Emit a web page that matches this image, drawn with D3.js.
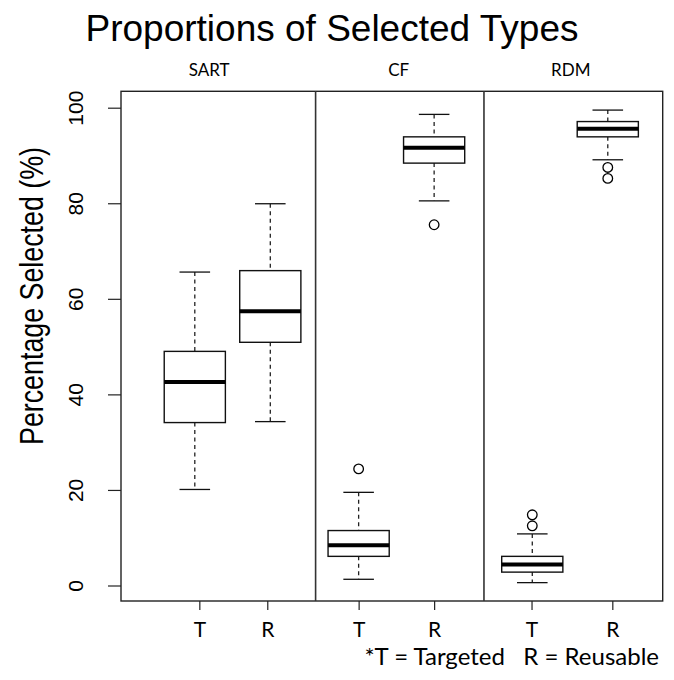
<!DOCTYPE html>
<html>
<head>
<meta charset="utf-8">
<script src="https://cdn.jsdelivr.net/npm/d3@7"></script>
<style>
  html, body { margin: 0; padding: 0; background: #fff; }
  svg { display: block; }
</style>
</head>
<body>
<div id="chart"></div>
<script>
// box stats, in order SART T, SART R, CF T, CF R, RDM T, RDM R
const groups = ["SART", "CF", "RDM"];
const typeLabels = ["T", "R", "T", "R", "T", "R"];
const boxPos = [1, 2, 3.17, 4.17, 5.47, 6.47];
const tickPos = [1.06, 1.96, 3.17, 4.17, 5.46, 6.53];
const whiskerLow = [20.1, 34.3, 1.3, 80.5, 0.6, 89.1];
const q1 = [34.1, 50.9, 6.1, 88.4, 2.8, 93.9];
const median = [42.6, 57.4, 8.45, 91.6, 4.4, 95.6];
const q3 = [49.0, 65.9, 11.5, 93.9, 6.1, 97.1];
const whiskerHigh = [65.6, 79.9, 19.5, 98.6, 10.8, 99.5];
const outliers = [[], [], [24.4], [75.5], [12.5, 14.8], [85.2, 87.5]];
const dividers = [2.6, 4.83];
const groupLabelPos = [1.19, 3.7, 5.98];
const yTicks = [0, 20, 40, 60, 80, 100];

const width = 674;
const height = 680;
const frame = {left: 121, right: 662.7, top: 91.3, bottom: 601};

const svg = d3.select("#chart").append("svg")
  .attr("width", width)
  .attr("height", height);

const x = d3.scaleLinear().domain([0, 7.2]).range([119.3, 662.9]);
const y = d3.scaleLinear().domain([0, 100]).range([585.5, 107.7]);

const boxW = x(0.81) - x(0);
const capW = boxW / 2;

const boxes = boxPos.map((p, i) => ({
  pos: p, lo: whiskerLow[i], q1: q1[i], med: median[i], q3: q3[i], hi: whiskerHigh[i], out: outliers[i]
}));

// title
svg.append("text")
  .attr("x", 332)
  .attr("y", 41)
  .attr("text-anchor", "middle")
  .style("font-family", "'Liberation Sans', Arial, sans-serif")
  .style("font-size", "37px")
  .text("Proportions of Selected Types");

// panel names
svg.append("g").selectAll("text")
  .data(groups)
  .enter().append("text")
  .attr("x", (d, i) => x(groupLabelPos[i]))
  .attr("y", 76)
  .attr("text-anchor", "middle")
  .style("font-family", "Lato, 'Open Sans', sans-serif")
  .style("font-size", "17px")
  .text(d => d);

// y axis
const yAxis = svg.append("g")
  .attr("transform", `translate(${frame.left},0)`)
  .call(d3.axisLeft(y).tickValues(yTicks).tickSize(13).tickSizeOuter(0));
yAxis.select(".domain").remove();
yAxis.selectAll("line").attr("stroke", "#222").attr("stroke-width", 1.2);
yAxis.selectAll("text")
  .attr("x", null)
  .attr("text-anchor", "middle")
  .attr("transform", `translate(-46,0) rotate(-90)`)
  .attr("dy", "0.36em")
  .style("font-family", "'Liberation Sans', Arial, sans-serif")
  .style("font-size", "21px")
  .attr("fill", "#000");

svg.append("text")
  .attr("transform", `translate(43,296) rotate(-90)`)
  .attr("text-anchor", "middle")
  .attr("textLength", 298)
  .attr("lengthAdjust", "spacingAndGlyphs")
  .style("font-family", "'Liberation Sans', Arial, sans-serif")
  .style("font-size", "33px")
  .text("Percentage Selected (%)");

// x axis ticks
const xAxis = svg.append("g")
  .attr("transform", `translate(0,${frame.bottom})`)
  .call(d3.axisBottom(x).tickValues(tickPos).tickSize(9).tickSizeOuter(0).tickPadding(12)
    .tickFormat((d, i) => typeLabels[i]));
xAxis.select(".domain").remove();
xAxis.selectAll("line").attr("stroke", "#222").attr("stroke-width", 1.2);
xAxis.selectAll("text")
  .attr("dy", "0.71em")
  .style("font-family", "Lato, 'Open Sans', sans-serif")
  .style("font-size", "21px")
  .attr("fill", "#000");

// frame + dividers
svg.append("rect")
  .attr("x", frame.left).attr("y", frame.top)
  .attr("width", frame.right - frame.left)
  .attr("height", frame.bottom - frame.top)
  .attr("fill", "none")
  .attr("stroke", "#222")
  .attr("stroke-width", 1.4);

svg.append("g").selectAll("line")
  .data(dividers)
  .enter().append("line")
  .attr("x1", d => x(d)).attr("x2", d => x(d))
  .attr("y1", frame.top).attr("y2", frame.bottom)
  .attr("stroke", "#333")
  .attr("stroke-width", 1.6);

// boxplots
const g = svg.append("g").selectAll("g")
  .data(boxes)
  .enter().append("g");

g.append("line")
  .attr("x1", d => x(d.pos)).attr("x2", d => x(d.pos))
  .attr("y1", d => y(d.hi)).attr("y2", d => y(d.q3))
  .attr("stroke", "#222").attr("stroke-width", 1.3).attr("stroke-dasharray", "4,3.5");
g.append("line")
  .attr("x1", d => x(d.pos)).attr("x2", d => x(d.pos))
  .attr("y1", d => y(d.q1)).attr("y2", d => y(d.lo))
  .attr("stroke", "#222").attr("stroke-width", 1.3).attr("stroke-dasharray", "4,3.5");

g.selectAll("line.cap")
  .data(d => [d.lo, d.hi].map(v => ({pos: d.pos, v})))
  .enter().append("line")
  .attr("class", "cap")
  .attr("x1", d => x(d.pos) - capW / 2).attr("x2", d => x(d.pos) + capW / 2)
  .attr("y1", d => y(d.v)).attr("y2", d => y(d.v))
  .attr("stroke", "#111").attr("stroke-width", 1.3);

g.append("rect")
  .attr("x", d => x(d.pos) - boxW / 2)
  .attr("y", d => y(d.q3))
  .attr("width", boxW)
  .attr("height", d => y(d.q1) - y(d.q3))
  .attr("fill", "#fff")
  .attr("stroke", "#111")
  .attr("stroke-width", 1.4);

g.append("line")
  .attr("x1", d => x(d.pos) - boxW / 2).attr("x2", d => x(d.pos) + boxW / 2)
  .attr("y1", d => y(d.med)).attr("y2", d => y(d.med))
  .attr("stroke", "#000").attr("stroke-width", 4);

g.selectAll("circle")
  .data(d => d.out.map(v => ({pos: d.pos, v})))
  .enter().append("circle")
  .attr("cx", d => x(d.pos))
  .attr("cy", d => y(d.v))
  .attr("r", 4.8)
  .attr("fill", "none")
  .attr("stroke", "#000")
  .attr("stroke-width", 1.3);

// footnote
svg.append("text")
  .attr("x", 659)
  .attr("y", 665)
  .attr("text-anchor", "end")
  .style("font-family", "Lato, 'Open Sans', sans-serif")
  .style("font-size", "24px")
  .style("white-space", "pre")
  .text("*T = Targeted   R = Reusable");
</script>
</body>
</html>
